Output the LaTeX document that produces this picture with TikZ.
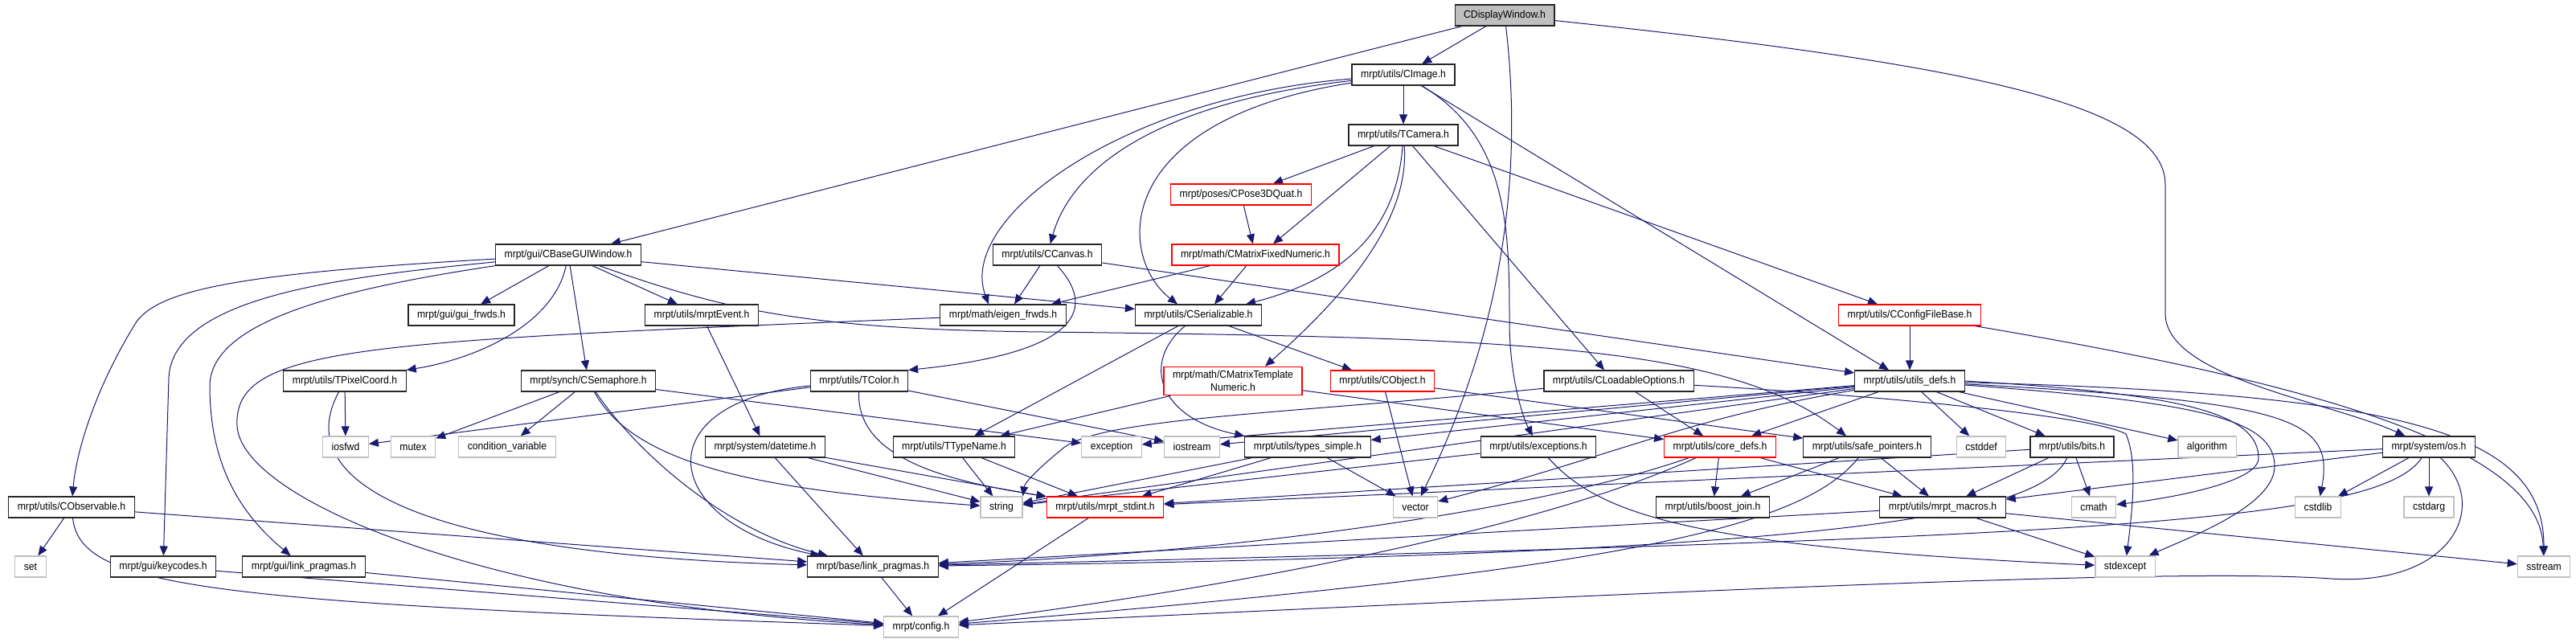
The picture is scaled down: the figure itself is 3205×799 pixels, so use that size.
\documentclass[tikz,border=0pt]{standalone}
\usepackage{fontspec}
\setmainfont{Liberation Sans}[FakeStretch=0.925]
\usetikzlibrary{arrows.meta,backgrounds}
\definecolor{edgeblue}{HTML}{191970}
\definecolor{boxgray}{HTML}{BFBFBF}
\definecolor{boxred}{HTML}{FF0000}
\begin{document}
\begin{tikzpicture}[x=0.5pt,y=-0.5pt,
    hdr/.style={draw=black!85, line width=0.6pt, fill=white, inner xsep=5.5pt, inner ysep=2.5pt,
      minimum height=13pt, align=center, font=\fontsize{6.6}{7.9}\selectfont},
    redhdr/.style={hdr, draw=boxred},
    syshdr/.style={hdr, draw=boxgray},
    roothdr/.style={hdr, fill=boxgray},
    dep/.style={draw=edgeblue, line width=0.5pt, -{Triangle[length=6pt,width=5pt]}}]
          \useasboundingbox (0,0) rectangle (3205,799);

          \node[roothdr] (dw) at (1872,19) {CDisplayWindow.h};
          \node[hdr] (img) at (1746,93) {mrpt/utils/CImage.h};
          \node[hdr] (cam) at (1746,168) {mrpt/utils/TCamera.h};

          \node[redhdr] (pose) at (1544,242) {mrpt/poses/CPose3DQuat.h};
          \node[hdr] (gui) at (707,317) {mrpt/gui/CBaseGUIWindow.h};
          \node[hdr] (canvas) at (1303,317) {mrpt/utils/CCanvas.h};
          \node[redhdr] (fixed) at (1562,317) {mrpt/math/CMatrixFixedNumeric.h};

          \node[hdr] (frwds) at (574,392) {mrpt/gui/gui\_frwds.h};
          \node[hdr] (evt) at (873,392) {mrpt/utils/mrptEvent.h};
          \node[hdr] (eigen) at (1248,392) {mrpt/math/eigen\_frwds.h};
          \node[hdr] (ser) at (1491,392) {mrpt/utils/CSerializable.h};
          \node[redhdr] (cfgb) at (2376,392) {mrpt/utils/CConfigFileBase.h};

          \node[hdr] (pix) at (429,474) {mrpt/utils/TPixelCoord.h};
          \node[hdr] (sem) at (732,474) {mrpt/synch/CSemaphore.h};
          \node[hdr] (tcolor) at (1069,474) {mrpt/utils/TColor.h};
          \node[redhdr] (tmpl) at (1534,474) {mrpt/math/CMatrixTemplate\\Numeric.h};
          \node[redhdr] (obj) at (1720,474) {mrpt/utils/CObject.h};
          \node[hdr] (lopt) at (2014,474) {mrpt/utils/CLoadableOptions.h};
          \node[hdr] (udefs) at (2376,474) {mrpt/utils/utils\_defs.h};

          \node[syshdr] (iosfwd) at (430,556) {iosfwd};
          \node[syshdr] (mutex) at (514,556) {mutex};
          \node[syshdr] (condvar) at (631,556) {condition\_variable};
          \node[hdr] (dt) at (952,556) {mrpt/system/datetime.h};
          \node[hdr] (ttn) at (1187,556) {mrpt/utils/TTypeName.h};
          \node[syshdr] (exception) at (1383,556) {exception};
          \node[syshdr] (iostream) at (1483,556) {iostream};
          \node[hdr] (types) at (1627,556) {mrpt/utils/types\_simple.h};
          \node[hdr] (excs) at (1914,556) {mrpt/utils/exceptions.h};
          \node[redhdr] (core) at (2140,556) {mrpt/utils/core\_defs.h};
          \node[hdr] (safe) at (2323,556) {mrpt/utils/safe\_pointers.h};
          \node[syshdr] (cstddef) at (2465,556) {cstddef};
          \node[hdr] (bits) at (2578,556) {mrpt/utils/bits.h};
          \node[syshdr] (algorithm) at (2746,556) {algorithm};
          \node[hdr] (os) at (3022,556) {mrpt/system/os.h};

          \node[hdr] (obs) at (89,631) {mrpt/utils/CObservable.h};
          \node[syshdr] (string) at (1246,631) {string};
          \node[redhdr] (stdint) at (1375,631) {mrpt/utils/mrpt\_stdint.h};
          \node[syshdr] (vector) at (1761,631) {vector};
          \node[hdr] (boost) at (2131,631) {mrpt/utils/boost\_join.h};
          \node[hdr] (macros) at (2417,631) {mrpt/utils/mrpt\_macros.h};
          \node[syshdr] (cmath) at (2605,631) {cmath};
          \node[syshdr] (cstdlib) at (2884,631) {cstdlib};
          \node[syshdr] (cstdarg) at (3022,631) {cstdarg};

          \node[syshdr] (set) at (38,705) {set};
          \node[hdr] (keys) at (203,705) {mrpt/gui/keycodes.h};
          \node[hdr] (glink) at (378,705) {mrpt/gui/link\_pragmas.h};
          \node[hdr] (blink) at (1086,705) {mrpt/base/link\_pragmas.h};
          \node[syshdr] (stdexcept) at (2644,705) {stdexcept};
          \node[syshdr] (sstream) at (3165,705) {sstream};

          \node[syshdr] (config) at (1146,780) {mrpt/config.h};

          \begin{scope}[on background layer]
          \draw[dep] (dw) -- (gui);
          \draw[dep] (dw) -- (img);
          \draw[dep] (dw) .. controls (1900,260) and (1850,450) .. (vector);
          \draw[dep] (dw) .. controls (2450,80) and (2694,130) .. (2694,230) -- (2694,390) .. controls (2694,470) and (2900,500) .. (os);

          \draw[dep] (img) -- (cam);
          \draw[dep] (img) .. controls (1400,120) and (1190,270) .. ([xshift=-9pt]eigen.north);
          \draw[dep] (img) .. controls (1420,130) and (1330,220) .. (canvas);
          \draw[dep] (img) .. controls (1380,150) and (1390,320) .. ([xshift=-13pt]ser.north);
          \draw[dep] (img) .. controls (1875,170) and (1878,280) .. (1878,400) .. controls (1878,470) and (1895,520) .. (excs);
          \draw[dep] (img) -- ([xshift=-13pt]udefs.north);

          \draw[dep] (cam) -- ([xshift=20pt]pose.north);
          \draw[dep] (cam) -- ([xshift=11pt]fixed.north);
          \draw[dep] (cam) .. controls (1738,280) and (1680,345) .. ([xshift=-10pt]ser.north east);
          \draw[dep] (cam) .. controls (1755,280) and (1660,380) .. ([xshift=20pt]tmpl.north);
          \draw[dep] (cam) -- ([xshift=-9pt]lopt.north);
          \draw[dep] (cam) -- ([xshift=-20pt]cfgb.north);

          \draw[dep] (pose) -- (fixed);
          \draw[dep] (fixed) -- ([xshift=30pt]eigen.north);
          \draw[dep] (fixed) -- ([xshift=10pt]ser.north);
          \draw[dep] (canvas) -- ([xshift=7pt]eigen.north);
          \draw[dep] (canvas) .. controls (1370,390) and (1330,440) .. (tcolor.north east);
          \draw[dep] (canvas) -- (udefs);
          \draw[dep] (cfgb) -- (udefs);
          \draw[dep] (cfgb) .. controls (2900,480) and (3160,560) .. (sstream);

          \draw[dep] (gui) -- (frwds);
          \draw[dep] (gui) -- (evt);
          \draw[dep] (gui) -- (sem);
          \draw[dep] (gui) .. controls (690,400) and (600,445) .. (pix.north east);
          \draw[dep] (gui) -- (ser);
          \draw[dep] (gui) .. controls (900,385) and (1000,410) .. (1300,413) .. controls (1900,420) and (2150,430) .. ([xshift=-13pt]safe.north);
          \draw[dep] (gui) .. controls (300,340) and (200,360) .. (170,400) .. controls (120,480) and (95,560) .. (obs);
          \draw[dep] (gui) .. controls (420,345) and (215,370) .. (210,470) -- (keys);
          \draw[dep] (gui) .. controls (420,360) and (262,400) .. (261,480) .. controls (261,580) and (300,640) .. (glink);

          \draw[dep] (evt) -- (dt);
          \draw[dep] (pix) -- (iosfwd);
          \draw[dep] (pix) .. controls (360,600) and (520,690) .. (blink);
          \draw[dep] (sem) -- (mutex);
          \draw[dep] (sem) -- (condvar);
          \draw[dep] (sem) -- (exception);
          \draw[dep] (sem) .. controls (790,580) and (950,610) .. (string);
          \draw[dep] (sem) .. controls (790,560) and (900,660) .. (blink);
          \draw[dep] (obs) -- (set);
          \draw[dep] (obs) -- (blink);
          \draw[dep] (obs) .. controls (100,730) and (250,750) .. (config);
          \draw[dep] (keys) -- (config);
          \draw[dep] (glink) -- (config);
          \draw[dep] (eigen) .. controls (450,425) and (290,430) .. (295,530) .. controls (300,620) and (600,750) .. (config);

          \draw[dep] (tcolor) -- (iosfwd);
          \draw[dep] (tcolor) -- (iostream);
          \draw[dep] (tcolor) .. controls (800,500) and (820,650) .. (blink);
          \draw[dep] (tcolor) .. controls (1066,560) and (1150,595) .. (stdint.north west);
          \draw[dep] (dt) -- (string);
          \draw[dep] (dt) -- (stdint);
          \draw[dep] (dt) -- (blink);
          \draw[dep] (ttn) -- (string);
          \draw[dep] (ttn) -- (stdint);

          \draw[dep] (ser) -- (ttn);
          \draw[dep] (ser) .. controls (1420,450) and (1440,520) .. (types.north west);
          \draw[dep] (ser) -- (obj);
          \draw[dep] (tmpl) -- (ttn);
          \draw[dep] (tmpl) -- (core);
          \draw[dep] (obj) -- (vector);
          \draw[dep] (obj) -- (safe);
          \draw[dep] (lopt) -- (core);
          \draw[dep] (lopt) .. controls (1600,515) and (1360,520) .. (1320,560) .. controls (1295,580) and (1275,600) .. (string.north east);
          \draw[dep] (lopt) .. controls (2300,490) and (2600,515) .. (2645,540) .. controls (2658,570) and (2655,620) .. (stdexcept);

          \draw[dep] (udefs) -- (core);
          \draw[dep] (udefs) -- (cstddef);
          \draw[dep] (udefs) -- (bits);
          \draw[dep] (udefs) -- (algorithm);
          \draw[dep] (udefs.east) .. controls (2720,490) and (2810,515) .. (2810,570) .. controls (2810,600) and (2700,620) .. (cmath);
          \draw[dep] (udefs) .. controls (2730,500) and (2830,520) .. (2830,580) .. controls (2830,630) and (2720,670) .. (stdexcept);
          \draw[dep] (udefs) .. controls (2850,500) and (2905,520) .. (cstdlib);
          \draw[dep] (udefs) .. controls (3000,490) and (3165,540) .. (sstream);
          \draw[dep] (udefs) -- (exception);
          \draw[dep] (udefs) -- (iostream);
          \draw[dep] (udefs) -- (types);
          \draw[dep] (udefs) -- (string);
          \draw[dep] (udefs) .. controls (2100,520) and (2000,570) .. (vector);

          \draw[dep] (excs) -- (string);
          \draw[dep] (excs) .. controls (1990,640) and (2100,680) .. (stdexcept);
          \draw[dep] (core) -- (boost);
          \draw[dep] (core) -- (macros);
          \draw[dep] (core) .. controls (1900,640) and (1500,690) .. (blink);
          \draw[dep] (core) .. controls (1900,665) and (1500,735) .. (config);
          \draw[dep] (safe) -- (boost);
          \draw[dep] (safe) -- (macros);
          \draw[dep] (safe) .. controls (2240,660) and (2000,710) .. (config);

          \draw[dep] (bits) -- (macros);
          \draw[dep] (bits) -- (cmath);
          \draw[dep] (bits) -- (stdint);
          \draw[dep] (bits) .. controls (2540,640) and (2300,690) .. (blink);
          \draw[dep] (os) -- (stdint);
          \draw[dep] (os) -- (macros);
          \draw[dep] (os) -- (cstdlib);
          \draw[dep] (os) -- (cstdarg);
          \draw[dep] (os) .. controls (2960,650) and (2600,670) .. (blink);
          \draw[dep] (os) .. controls (3100,630) and (3050,730) .. (2900,720) .. controls (2700,705) and (2000,740) .. (config);

          \draw[dep] (macros) -- (stdexcept);
          \draw[dep] (macros) -- (sstream);
          \draw[dep] (macros) -- (blink);
          \draw[dep] (types) -- (string);
          \draw[dep] (types) -- (stdint);
          \draw[dep] (types) -- (vector);
          \draw[dep] (blink) -- (config);
          \draw[dep] (stdint) -- (config);
          \end{scope}
        \end{tikzpicture}
\end{document}
